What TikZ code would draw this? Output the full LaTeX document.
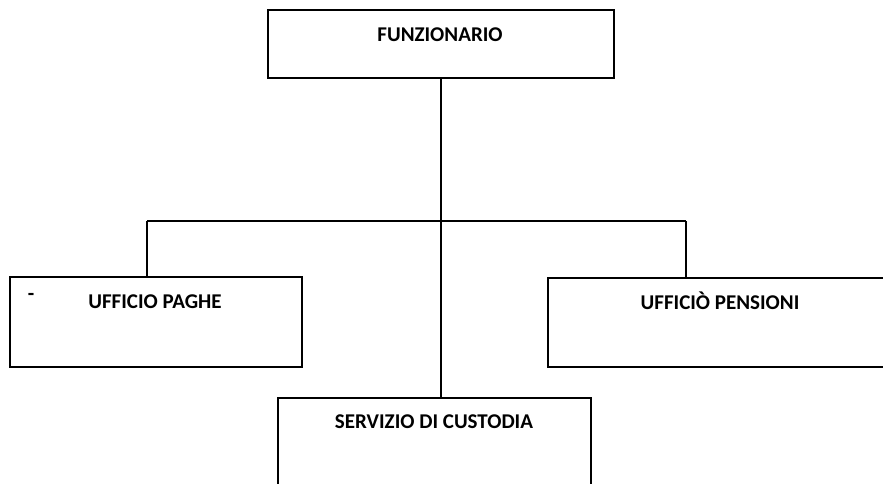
\documentclass[tikz,border=0pt]{standalone}
\usepackage{fontspec}
\setmainfont{Carlito}
\begin{document}
\begin{tikzpicture}[x=1pt,y=-1pt,
  box/.style={draw=black,line width=1.6pt,inner sep=0pt,outer sep=0pt,fill=none},
  lbl/.style={font=\fontsize{21}{24}\selectfont\bfseries,inner sep=0pt,anchor=center},
  conn/.style={draw=black,line width=1.6pt}]
\useasboundingbox (0,0) rectangle (883,484);
\clip (0,0) rectangle (883,484);
\fill[white] (0,0) rectangle (883,484);
% boxes
\node[box,minimum width=346pt,minimum height=68pt] (f) at (441,44) {};
\node[box,minimum width=292pt,minimum height=90pt] (p) at (156,322) {};
\node[box,minimum width=372pt,minimum height=89pt] (r) at (734,322.5) {};
\node[box,minimum width=313pt,minimum height=122pt] (s) at (434.5,459) {};
% labels
\node[lbl] (fl) at (440,35) {FUNZIONARIO};
\node[lbl] (pl) at (155,302) {UFFICIO PAGHE};
\node[lbl] (rl) at (720,301) {UFFICIÒ PENSIONI};
\node[lbl] (sl) at (434,422) {SERVIZIO DI CUSTODIA};
\node[lbl] (dash) at (31,297) {-};
% connectors
\coordinate (bl) at (147,221);
\coordinate (br) at (686,221);
\draw[conn] (f.south) -- (f.south |- s.north);
\draw[conn] (bl) -- (br);
\draw[conn] (bl) -- (bl |- p.north);
\draw[conn] (br) -- (br |- r.north);
\end{tikzpicture}
\end{document}
